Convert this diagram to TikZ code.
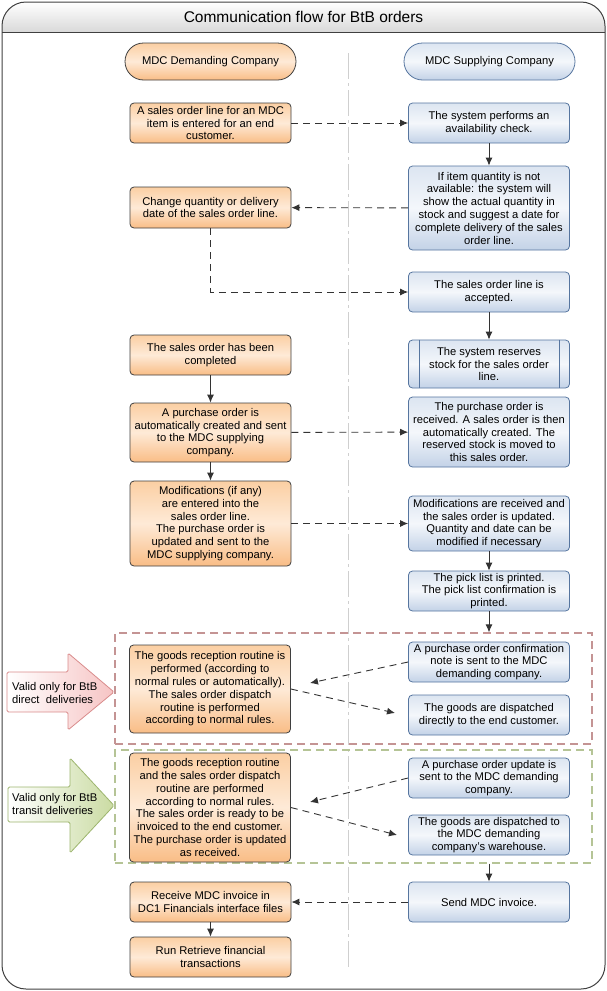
\documentclass[tikz,border=0pt]{standalone}
\usepackage{fontspec}
\setmainfont{Liberation Sans}
\usepackage{tikz}
\usetikzlibrary{arrows.meta,calc,shapes.misc}

\definecolor{framegrey}{HTML}{404040}
\definecolor{titlegrey}{HTML}{D9D9D9}
\definecolor{dividergrey}{HTML}{CFCFCF}
\definecolor{demborder}{HTML}{3F3F3F}
\definecolor{demtop}{HTML}{FBCFA3}
\definecolor{demmid}{HTML}{FEEAD7}
\definecolor{dembottom}{HTML}{F9BD86}
\definecolor{supborder}{HTML}{56759F}
\definecolor{suptop}{HTML}{DCE5F1}
\definecolor{supmid}{HTML}{F4F7FB}
\definecolor{supbottom}{HTML}{C3D2E7}
\definecolor{directborder}{HTML}{C49494}
\definecolor{directarrow}{HTML}{D98C8C}
\definecolor{directfill}{HTML}{F6C4C4}
\definecolor{transitborder}{HTML}{B5C496}
\definecolor{transitarrow}{HTML}{9DB56E}
\definecolor{transitfill}{HTML}{CADBA2}
\definecolor{flowgrey}{HTML}{333333}

\begin{document}
\begin{tikzpicture}[x=1pt, y=-1pt,
  every node/.style={font=\fontsize{11.2}{12.8}\selectfont, align=center, inner sep=1pt},
  >={Latex[length=8pt,width=7pt]},
  demand/.style={draw=demborder, line width=0.8pt, rounded corners=4pt, minimum width=161pt,
    top color=demtop, bottom color=dembottom, middle color=demmid},
  supply/.style={draw=supborder, line width=0.8pt, rounded corners=4pt, minimum width=161pt,
    top color=suptop, bottom color=supbottom, middle color=supmid},
  pill/.style={rounded rectangle, line width=0.8pt, minimum width=173pt, minimum height=37pt},
  group/.style={line width=1.3pt, dash pattern=on 8pt off 5pt, minimum width=477pt},
  solidline/.style={flowgrey, line width=0.9pt},
  flowline/.style={flowgrey, line width=0.9pt, dash pattern=on 7pt off 5pt},
]
\useasboundingbox (0,0) rectangle (607,991);

% frame and title
\begin{scope}
  \clip[rounded corners=24pt] (2,2) rectangle (605,989);
  \shade[top color=white, bottom color=titlegrey] (2,2) rectangle (605,32);
\end{scope}
\draw[framegrey, line width=1pt, rounded corners=24pt] (2,2) rectangle (605,989);
\draw[framegrey, line width=1pt] (2,32) -- (605,32);
\node[font=\fontsize{15.5}{18}\selectfont] (title) at (303.5,17) {Communication flow for BtB orders};

% lane divider
\draw[dividergrey, line width=0.8pt, dash pattern=on 26pt off 4pt on 3pt off 4pt] (348,53) -- (348,970);

% lane heads
\node[pill, draw=demborder, top color=demtop, bottom color=dembottom, middle color=demmid]
  (demhead) at (210.5,61.5) {MDC Demanding Company};
\node[pill, draw=supborder, top color=suptop, bottom color=supbottom, middle color=supmid]
  (suphead) at (489.5,61.5) {MDC Supplying Company};

% groups for the delivery types
\node[group, draw=directborder, minimum height=111pt] (directgroup) at (353.5,688.5) {};
\node[group, draw=transitborder, minimum height=113pt] (transitgroup) at (353.5,806.5) {};

% demanding company
\node[demand, minimum height=40pt] (entered) at (210.5,123) {A sales order line for an MDC\\item is entered for an end\\customer.};
\node[demand, minimum height=41pt] (change) at (210.5,207.5) {Change quantity or delivery\\date of the sales order line.};
\node[demand, minimum height=40pt] (completed) at (210.5,355) {The sales order has been\\completed};
\node[demand, minimum height=59pt] (pocreated) at (210.5,432.5) {A purchase order is\\automatically created and sent\\to the MDC supplying\\company.};
\node[demand, minimum height=85pt] (modentered) at (210.5,523.5) {Modifications (if any)\\are entered into the\\sales order line.\\The purchase order is\\updated and sent to the\\MDC supplying company.};
\node[demand, minimum height=88pt] (reception) at (210,689) {The goods reception routine is\\performed (according to\\normal rules or automatically).\\The sales order dispatch\\routine is performed\\according to normal rules.};
\node[demand, minimum height=109pt] (receptiontr) at (210,807.5) {The goods reception routine\\and the sales order dispatch\\routine are performed\\according to normal rules.\\The sales order is ready to be\\invoiced to the end customer.\\The purchase order is updated\\as received.};
\node[demand, minimum height=40pt] (recvinv) at (210.5,902) {Receive MDC invoice in\\DC1 Financials interface files};
\node[demand, minimum height=40pt] (retrieve) at (210.5,957) {Run Retrieve financial\\transactions};

% supplying company
\node[supply, minimum height=40pt] (check) at (489,123) {The system performs an\\availability check.};
\node[supply, minimum height=84pt] (notavail) at (489,208) {If item quantity is not\\available: the system will\\show the actual quantity in\\stock and suggest a date for\\complete delivery of the sales\\order line.};
\node[supply, minimum height=40pt] (accepted) at (489,292) {The sales order line is\\accepted.};
\node[supply, minimum height=48pt] (reserve) at (489,364) {The system reserves\\stock for the sales order\\line.};
\draw[supborder, line width=0.8pt] ($(reserve.north west)+(11,0)$) -- ($(reserve.south west)+(11,0)$);
\draw[supborder, line width=0.8pt] ($(reserve.north east)+(-11,0)$) -- ($(reserve.south east)+(-11,0)$);
\node[supply, minimum height=70pt] (poreceived) at (489,432) {The purchase order is\\received. A sales order is then\\automatically created. The\\reserved stock is moved to\\this sales order.};
\node[supply, minimum height=55pt] (modreceived) at (489,523.5) {Modifications are received and\\the sales order is updated.\\Quantity and date can be\\modified if necessary};
\node[supply, minimum height=40pt] (picklist) at (489,591) {The pick list is printed.\\The pick list confirmation is\\printed.};
\node[supply, minimum height=40pt] (confnote) at (489,662) {A purchase order confirmation\\note is sent to the MDC\\demanding company.};
\node[supply, minimum height=40pt] (dispdirect) at (489,715) {The goods are dispatched\\directly to the end customer.};
\node[supply, minimum height=40pt] (poupdate) at (489,778) {A purchase order update is\\sent to the MDC demanding\\company.};
\node[supply, minimum height=40pt] (dispwarehouse) at (489,835) {The goods are dispatched to\\the MDC demanding\\company's warehouse.};
\node[supply, minimum height=40pt] (sendinv) at (489,902) {Send MDC invoice.};

% side arrows
\draw[directarrow, line width=0.8pt, left color=white, right color=directfill, rounded corners=1.5pt]
  (7,672) -- (68,672) -- (68,653) -- (114,692) -- (68,730) -- (68,712) -- (7,712) -- cycle;
\node[anchor=west, align=left] (directlabel) at (11,693) {Valid only for BtB\\direct\ \ deliveries};
\draw[transitarrow, line width=0.8pt, left color=white, right color=transitfill, rounded corners=1.5pt]
  (8,787) -- (70,787) -- (70,758) -- (114,805.5) -- (70,853) -- (70,822) -- (8,822) -- cycle;
\node[anchor=west, align=left] (transitlabel) at (11,804) {Valid only for BtB\\transit deliveries};

% ends of the loose arrows
\coordinate (directin) at (picklist.south |- directgroup.north);
\coordinate (transitout) at (sendinv.north |- transitgroup.south);
\coordinate (confend) at (310,683);
\coordinate (dispend) at (395,713);
\coordinate (updend) at (310,802);
\coordinate (whend) at (397,835);

% connectors
\path[->, solidline]
(check) edge (notavail)
(accepted) edge (reserve)
(completed) edge (pocreated)
(pocreated) edge (modentered)
(modreceived) edge (picklist)
(picklist.south) edge (directin)
(recvinv) edge (retrieve)
;
\draw[->, solidline] (transitout) -- (sendinv.north);
\path[->, flowline]
(entered) edge (check)
(notavail) edge (change)
(pocreated) edge (poreceived)
(modentered) edge (modreceived)
(confnote.west) edge (confend)
(reception.east) edge (dispend)
(poupdate.west) edge (updend)
(receptiontr.east) edge (whend)
(sendinv) edge (recvinv)
;
\draw[->, flowline] (change) |- (accepted);
\end{tikzpicture}
\end{document}
